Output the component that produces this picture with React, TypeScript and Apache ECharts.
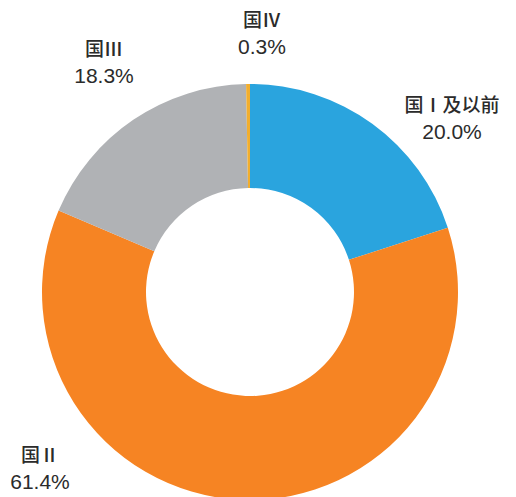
import React, { useEffect, useRef } from "react";
import * as echarts from "echarts";

const categories = ["国Ⅰ及以前", "国Ⅱ", "国Ⅲ", "国Ⅳ"];
const values = [20.0, 61.4, 18.3, 0.3];
const colors = ["#2AA4DE", "#F68423", "#B0B2B5", "#F2AE2E"];
const labelPositions = [
  [452, 117],
  [40, 467],
  [104, 61],
  [262, 32],
];

export default function App() {
  const ref = useRef<HTMLDivElement>(null);
  useEffect(() => {
    if (!ref.current) return;
    const chart = echarts.init(ref.current, null, { renderer: "svg" });
    chart.setOption({
      animation: false,
      backgroundColor: "#ffffff",
      series: [
        {
          type: "pie",
          center: [250, 292],
          radius: [104, 208],
          startAngle: 90,
          clockwise: true,
          silent: true,
          avoidLabelOverlap: false,
          data: categories.map((name, i) => ({
            name,
            value: values[i],
            itemStyle: { color: colors[i] },
          })),
          label: {
            show: true,
            overflow: "none",
            width: 200,
            formatter: (p: any) =>
              `{n|${categories[p.dataIndex]}}\n{v|${values[p.dataIndex].toFixed(1)}%}`,
            rich: {
              n: {
                fontSize: 19,
                fontWeight: 500,
                fontFamily: "Noto Sans CJK SC",
                color: "#2b2b2b",
                lineHeight: 28,
                align: "center",
              },
              v: {
                fontSize: 21,
                fontFamily: "Liberation Sans, Arial, sans-serif",
                color: "#2b2b2b",
                lineHeight: 28,
                align: "center",
              },
            },
          },
          labelLine: { show: false },
          labelLayout: (p: any) => ({
            x: labelPositions[p.dataIndex][0],
            y: labelPositions[p.dataIndex][1],
            align: "center",
            verticalAlign: "middle",
          }),
        },
      ],
    });
    return () => chart.dispose();
  }, []);
  return <div ref={ref} style={{ width: 516, height: 497, position: "absolute", left: 0, top: 0 }} />;
}
